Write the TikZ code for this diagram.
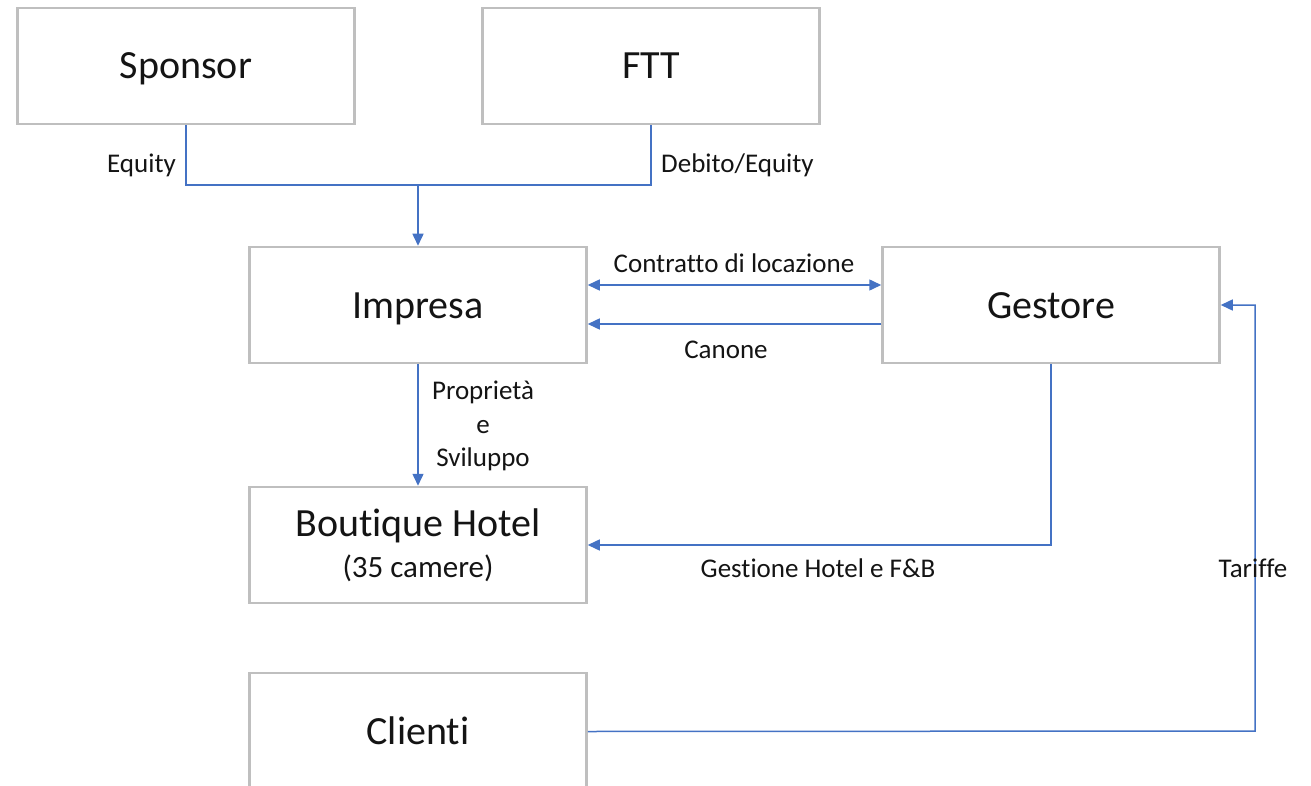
\documentclass[tikz,border=0pt]{standalone}
\usepackage{fontspec}
\setmainfont{Carlito}[Ligatures=NoCommon]
\usetikzlibrary{arrows.meta,positioning}
\definecolor{lnk}{RGB}{68,114,196}
\definecolor{rim}{RGB}{191,191,191}
\definecolor{ink}{RGB}{20,20,20}

\begin{document}
\begin{tikzpicture}[x=1pt,y=-1pt,
  frame/.style={draw=rim,line width=2.5pt,minimum width=337pt,minimum height=116pt,
    align=center,text=ink,font=\fontsize{40}{44}\selectfont},
  box/.style={frame,text height=35pt,text depth=9pt},
  lbl/.style={inner sep=0pt,text=ink,text height=25pt,text depth=6pt,
    font=\fontsize{27}{33.5}\selectfont},
  flow/.style={draw=lnk,line width=1.5pt},
  arr/.style={-{Triangle[length=12pt,width=11pt]}},
  arrs/.style={{Triangle[length=12pt,width=11pt]}-{Triangle[length=12pt,width=11pt]}}]
  \useasboundingbox (0,0) rectangle (1311,786);
  \clip (0,0) rectangle (1311,786);

  % boxes
  \node[box] (sponsor) at (186,66) {Sponsor};
  \node[box] (ftt) at (651,66) {FTT};
  \node[box] (impresa) at (418,305) {Impresa};
  \node[box] (gestore) at (1051,305) {Gestore};
  \node[frame] (hotel) at (418,545) {Boutique Hotel\\[-3pt]{\fontsize{31}{36}\selectfont (35 camere)}};
  \node[box,minimum height=117pt] (clienti) at (418,731.5) {Clienti};

  % funding
  \coordinate (join) at (418,185);
  \draw[flow] (sponsor.south) |- (join) -| (ftt.south);
  \draw[flow,arr] (join) -- (impresa.north);
  \node[lbl,anchor=east] (equity) at (176,163) {Equity};
  \node[lbl,anchor=west] (debt) at (661,163) {Debito/Equity};

  % lease
  \draw[flow,arrs] ([yshift=20pt]impresa.east) -- ([yshift=20pt]gestore.west);
  \draw[flow,arr] ([yshift=-19pt]gestore.west) -- ([yshift=-19pt]impresa.east);
  \node[lbl] (lease) at (734,263) {Contratto di locazione};
  \node[lbl] (rent) at (726,349) {Canone};

  % hotel
  \draw[flow,arr] (impresa.south) -- (hotel.north);
  \node[inner sep=0pt,text=ink,align=center,font=\fontsize{27}{33.5}\selectfont] (prop) at (483,426) {Proprietà\\e\\Sviluppo};
  \draw[flow,arr] (gestore.south) |- (hotel.east);
  \node[lbl] (mgmt) at (818,568) {Gestione Hotel e F\&B};

  % customers
  \coordinate (turn) at (1255,731);
  \draw[flow,arr] (clienti.east) -- (turn) |- (gestore.east);
  \node[lbl] (rates) at (1253,568) {Tariffe};
\end{tikzpicture}
\end{document}
